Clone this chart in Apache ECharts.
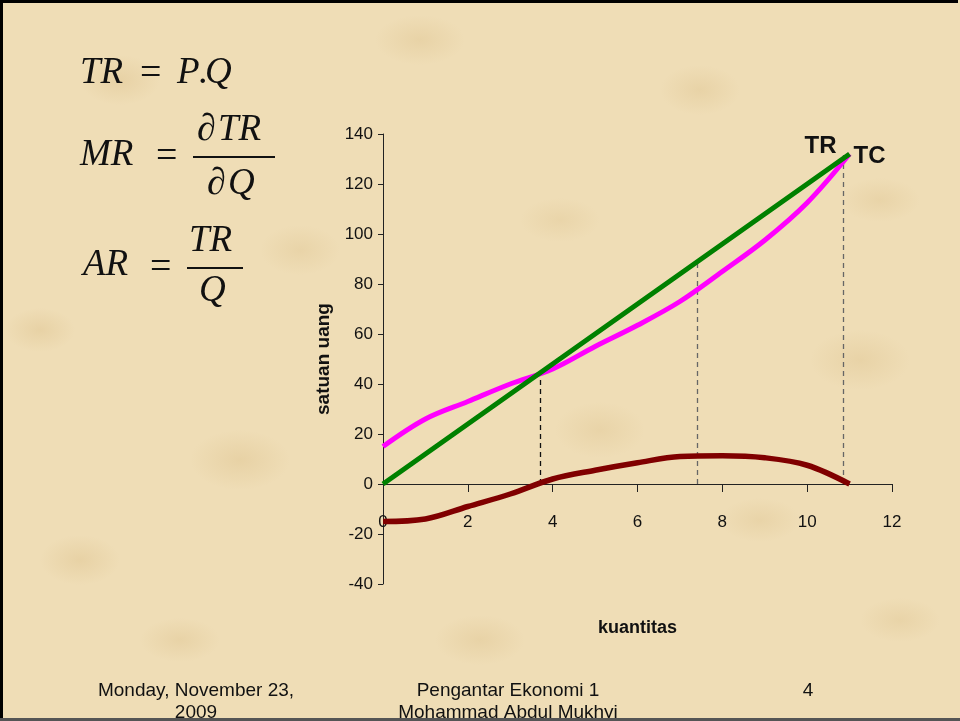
<!DOCTYPE html>
<html>
<head>
<meta charset="utf-8">
<script src="https://cdn.jsdelivr.net/npm/echarts@6/dist/echarts.min.js"></script>
<style>
  html, body { margin: 0; padding: 0; }
  #wrap {
    position: relative; width: 960px; height: 721px; overflow: hidden;
    background-color: #EFDDB6;
    background-image:
      radial-gradient(ellipse 40px 25px at 120px 80px, rgba(205,170,105,0.22), transparent),
      radial-gradient(ellipse 45px 25px at 420px 40px, rgba(205,170,105,0.20), transparent),
      radial-gradient(ellipse 40px 25px at 700px 90px, rgba(205,170,105,0.20), transparent),
      radial-gradient(ellipse 50px 30px at 240px 460px, rgba(205,170,105,0.22), transparent),
      radial-gradient(ellipse 40px 25px at 80px 560px, rgba(205,170,105,0.22), transparent),
      radial-gradient(ellipse 45px 28px at 600px 430px, rgba(205,170,105,0.18), transparent),
      radial-gradient(ellipse 50px 30px at 860px 360px, rgba(205,170,105,0.20), transparent),
      radial-gradient(ellipse 45px 25px at 480px 640px, rgba(205,170,105,0.20), transparent),
      radial-gradient(ellipse 40px 25px at 300px 250px, rgba(205,170,105,0.18), transparent),
      radial-gradient(ellipse 40px 22px at 900px 620px, rgba(205,170,105,0.18), transparent),
      radial-gradient(ellipse 35px 22px at 40px 330px, rgba(205,170,105,0.22), transparent),
      radial-gradient(ellipse 40px 22px at 560px 220px, rgba(205,170,105,0.16), transparent),
      radial-gradient(ellipse 40px 22px at 760px 520px, rgba(205,170,105,0.18), transparent),
      radial-gradient(ellipse 40px 22px at 180px 640px, rgba(205,170,105,0.20), transparent),
      radial-gradient(ellipse 40px 22px at 880px 200px, rgba(205,170,105,0.18), transparent);
  }
  #chart { position: absolute; left: 0; top: 0; width: 960px; height: 721px; }
  .bd { position: absolute; pointer-events: none; }
</style>
</head>
<body>
<div id="wrap">
  <div id="chart"></div>
  <div class="bd" style="left:0;top:0;width:958px;height:3px;background:#000"></div>
  <div class="bd" style="left:0;top:0;width:3px;height:721px;background:#000"></div>
  <div class="bd" style="left:0;top:718px;width:960px;height:3px;background:#555"></div>
</div>
<script>
// ---- data ----
var quantity = [0, 1, 2, 3, 4, 5, 6, 7, 8, 9, 10, 11];
var totalRevenue = [0, 12, 24, 36, 48, 60, 72, 84, 96, 108, 120, 132];
var totalCost = [15, 26, 33, 40, 46, 55, 63.5, 73, 85, 97.5, 112.5, 132];
var profit = [-15, -14, -9, -4, 2, 5.5, 8.5, 11, 11.3, 10.5, 7.5, 0];
var dropQ = [3.7, 7.4, 10.85];
var dropTop = [44.4, 89, 132];
var xTicks = [0, 2, 4, 6, 8, 10, 12];
var yTicks = [-40, -20, 0, 20, 40, 60, 80, 100, 120, 140];
var seriesNames = ['TR', 'TC', 'Laba'];
var footerLeft = 'Monday, November 23,\n2009';
var footerMid = 'Pengantar Ekonomi 1\nMohammad Abdul Mukhyi';
var footerRight = '4';

function pairs(xs, ys) { return xs.map(function (x, i) { return [x, ys[i]]; }); }

var SANS = '"Liberation Sans", Arial, sans-serif';
var SERIF = '"Liberation Serif", "Times New Roman", serif';

var yMin = yTicks[0], yMax = yTicks[yTicks.length - 1];
var gridTop = 134, gridH = 450;
// move x axis line (with its labels) up to value 0
var xAxisOffset = -gridH * (0 - yMin) / (yMax - yMin);

var dropLines = dropQ.map(function (q, i) {
  return [
    { coord: [q, 0], lineStyle: { color: i === 0 ? '#111' : '#666', type: [5, 4], width: 1.3 } },
    { coord: [q, dropTop[i]] }
  ];
});

function ftext(x, y, txt, size, extra) {
  var st = { text: txt, font: 'italic ' + size + 'px ' + SERIF, fill: '#111',
             textAlign: 'left', textVerticalAlign: 'middle' };
  if (extra) for (var k in extra) st[k] = extra[k];
  return { type: 'text', x: x, y: y, style: st, z: 10 };
}
function bar(x1, x2, y) {
  return { type: 'line', shape: { x1: x1, y1: y, x2: x2, y2: y }, style: { stroke: '#111', lineWidth: 2 }, z: 10 };
}
var up = { font: '38px ' + SERIF };

var chart = echarts.init(document.getElementById('chart'), null, { renderer: 'canvas' });
chart.setOption({
  animation: false,
  backgroundColor: 'transparent',
  grid: { left: 383, top: gridTop, width: 509, height: gridH, containLabel: false, outerBoundsMode: 'none' },
  xAxis: {
    type: 'value', min: xTicks[0], max: xTicks[xTicks.length - 1], interval: 2,
    position: 'bottom', offset: xAxisOffset,
    name: 'kuantitas', nameLocation: 'middle', nameGap: 135,
    nameTextStyle: { fontFamily: SANS, fontWeight: 'bold', fontSize: 18, color: '#111' },
    axisLine: { onZero: false, lineStyle: { color: '#222', width: 1 } },
    axisTick: { show: true, inside: false, length: 8, lineStyle: { color: '#222' } },
    axisLabel: { margin: 30, fontFamily: SANS, fontSize: 17, color: '#111' },
    splitLine: { show: false }
  },
  yAxis: {
    type: 'value', min: yMin, max: yMax, interval: 20,
    name: 'satuan uang', nameLocation: 'middle', nameGap: 27, nameRotate: 90,
    nameTextStyle: { fontFamily: SANS, fontWeight: 'bold', fontSize: 19, color: '#111' },
    axisLine: { show: true, onZero: false, lineStyle: { color: '#222', width: 1 } },
    axisTick: { show: true, length: 5, lineStyle: { color: '#222' } },
    axisLabel: { margin: 10, fontFamily: SANS, fontSize: 17, color: '#111' },
    splitLine: { show: false }
  },
  series: [
    {
      name: seriesNames[2], type: 'line', data: pairs(quantity, profit),
      smooth: 0.35, showSymbol: false, z: 3,
      lineStyle: { color: '#800000', width: 5.5 },
      markLine: { silent: true, symbol: ['none', 'none'], label: { show: false }, data: dropLines, z: 1 }
    },
    {
      name: seriesNames[1], type: 'line', data: pairs(quantity, totalCost),
      smooth: 0.35, showSymbol: false, z: 4,
      lineStyle: { color: '#FF00FF', width: 5 },
      endLabel: { show: true, formatter: 'TC', offset: [-4, 2],
        fontFamily: SANS, fontWeight: 'bold', fontSize: 24, color: '#111' }
    },
    {
      name: seriesNames[0], type: 'line', data: pairs(quantity, totalRevenue),
      showSymbol: false, z: 5,
      lineStyle: { color: '#008000', width: 5 },
      endLabel: { show: true, formatter: 'TR', offset: [-53, -8],
        fontFamily: SANS, fontWeight: 'bold', fontSize: 24, color: '#111' }
    }
  ],
  graphic: [
    // TR = P.Q
    ftext(80, 73, 'TR', 37),
    ftext(140, 74, '=', 36, up),
    ftext(177, 73, 'P', 37),
    ftext(198, 73, '.', 37, up),
    ftext(205, 73, 'Q', 37),
    // MR = dTR / dQ
    ftext(80, 155, 'MR', 37),
    ftext(156, 157, '=', 36, up),
    bar(193, 275, 157),
    ftext(197, 130, '\u2202', 37, up),
    ftext(218, 130, 'TR', 37),
    ftext(207, 184, '\u2202', 37, up),
    ftext(228, 184, 'Q', 37),
    // AR = TR / Q
    ftext(83, 265, 'AR', 37),
    ftext(150, 268, '=', 36, up),
    bar(187, 243, 268),
    ftext(189, 241, 'TR', 37),
    ftext(199, 291, 'Q', 37),
    // footer
    { type: 'text', x: 196, y: 702, style: { text: footerLeft, font: '19px ' + SANS, fill: '#111',
      textAlign: 'center', textVerticalAlign: 'middle', lineHeight: 22 } },
    { type: 'text', x: 508, y: 702, style: { text: footerMid, font: '19px ' + SANS, fill: '#111',
      textAlign: 'center', textVerticalAlign: 'middle', lineHeight: 22 } },
    { type: 'text', x: 808, y: 691, style: { text: footerRight, font: '19px ' + SANS, fill: '#111',
      textAlign: 'center', textVerticalAlign: 'middle' } }
  ]
});
</script>
</body>
</html>
